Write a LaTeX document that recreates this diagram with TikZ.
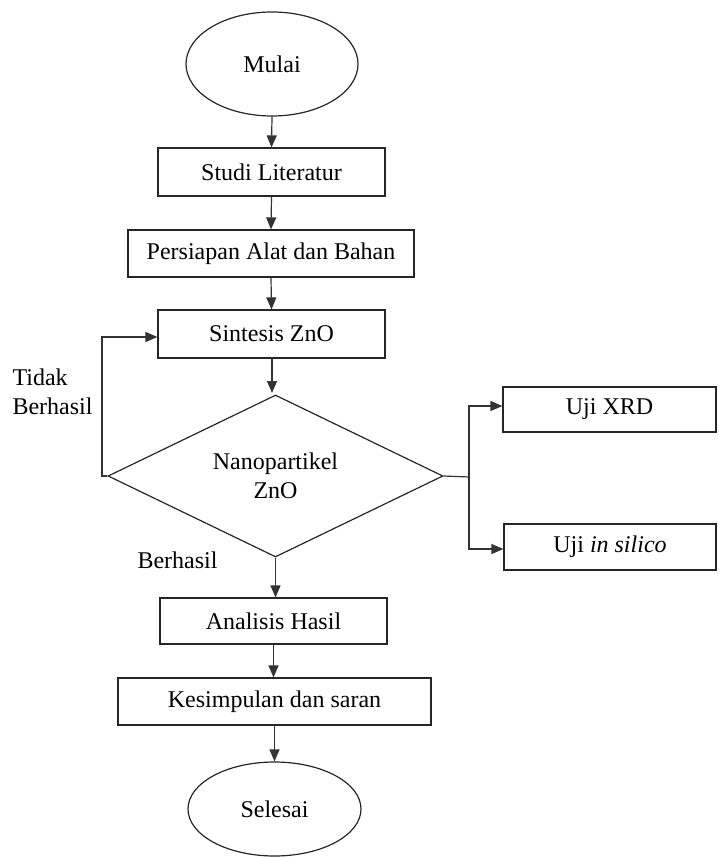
\documentclass[tikz,border=0pt]{standalone}
\usepackage{fontspec}
\setmainfont{Liberation Serif}
\usetikzlibrary{shapes.geometric,arrows.meta}
\begin{document}
\begin{tikzpicture}[x=1pt,y=-1pt,
  every node/.style={font=\fontsize{24}{29}\selectfont},
  line/.style={draw=black!80,line width=1.2pt},
  arr/.style={line,-{Triangle[length=12pt,width=10pt]}},
  box/.style={draw=black!85,line width=1.2pt,rectangle,inner sep=0pt},
  oval/.style={draw=black!85,line width=1.2pt,ellipse,inner sep=0pt}]
\useasboundingbox (0,0) rectangle (718,858);
\node[oval,minimum width=172pt,minimum height=104pt] (mulai) at (272,64) {Mulai};
\node[box,minimum width=227pt,minimum height=48pt] (studi) at (271.5,172) {Studi Literatur};
\node[box,minimum width=286pt,minimum height=47pt] (persiapan) at (271,253.5) {Persiapan Alat dan Bahan};
\node[box,minimum width=227pt,minimum height=48pt] (sintesis) at (271.5,334) {Sintesis ZnO};
\node[draw=black!85,line width=1.2pt,diamond,aspect=2.06,minimum width=335pt,minimum height=162pt,inner sep=0pt,align=center] (nano) at (275.5,476) {Nanopartikel\\ZnO};
\node[box,minimum width=213pt,minimum height=45pt] (xrd) at (609.5,409.5) {Uji XRD};
\node[box,minimum width=212pt,minimum height=46pt] (silico) at (610,547) {Uji \textit{in silico}};
\node[box,minimum width=227pt,minimum height=46pt] (analisis) at (273.5,621) {Analisis Hasil};
\node[box,minimum width=313pt,minimum height=47pt] (kesimpulan) at (274.5,701.5) {Kesimpulan dan saran};
\node[oval,minimum width=173pt,minimum height=94pt] (selesai) at (274.5,809) {Selesai};
\node[anchor=west,align=left] (tidak) at (9,392) {Tidak\\Berhasil};
\node[anchor=west] (berhasil) at (134,560) {Berhasil};
\coordinate (fbl) at (102,476);
\coordinate (fbt) at (102,337);
\coordinate (br) at (469,477);
\coordinate (brt) at (469,406);
\coordinate (brb) at (469,549);
\coordinate (ntop) at (272,393);
\draw[arr] (mulai.south) -- (studi.north);
\draw[arr] (studi.south) -- (persiapan.north);
\draw[arr] (persiapan.south) -- (sintesis.north);
\draw[arr] (sintesis.south -| ntop) -- (ntop);
\draw[arr] (nano.west) -- (fbl) -- (fbt) -- (sintesis.west |- fbt);
\draw[line] (nano.east) -- (br);
\draw[arr] (br) -- (brt) -- (xrd.west |- brt);
\draw[arr] (br) -- (brb) -- (silico.west |- brb);
\draw[arr] (nano.south) -- (analisis.north -| nano.south);
\draw[arr] (analisis.south) -- (kesimpulan.north -| analisis.south);
\draw[arr] (kesimpulan.south) -- (selesai.north);
\end{tikzpicture}
\end{document}
